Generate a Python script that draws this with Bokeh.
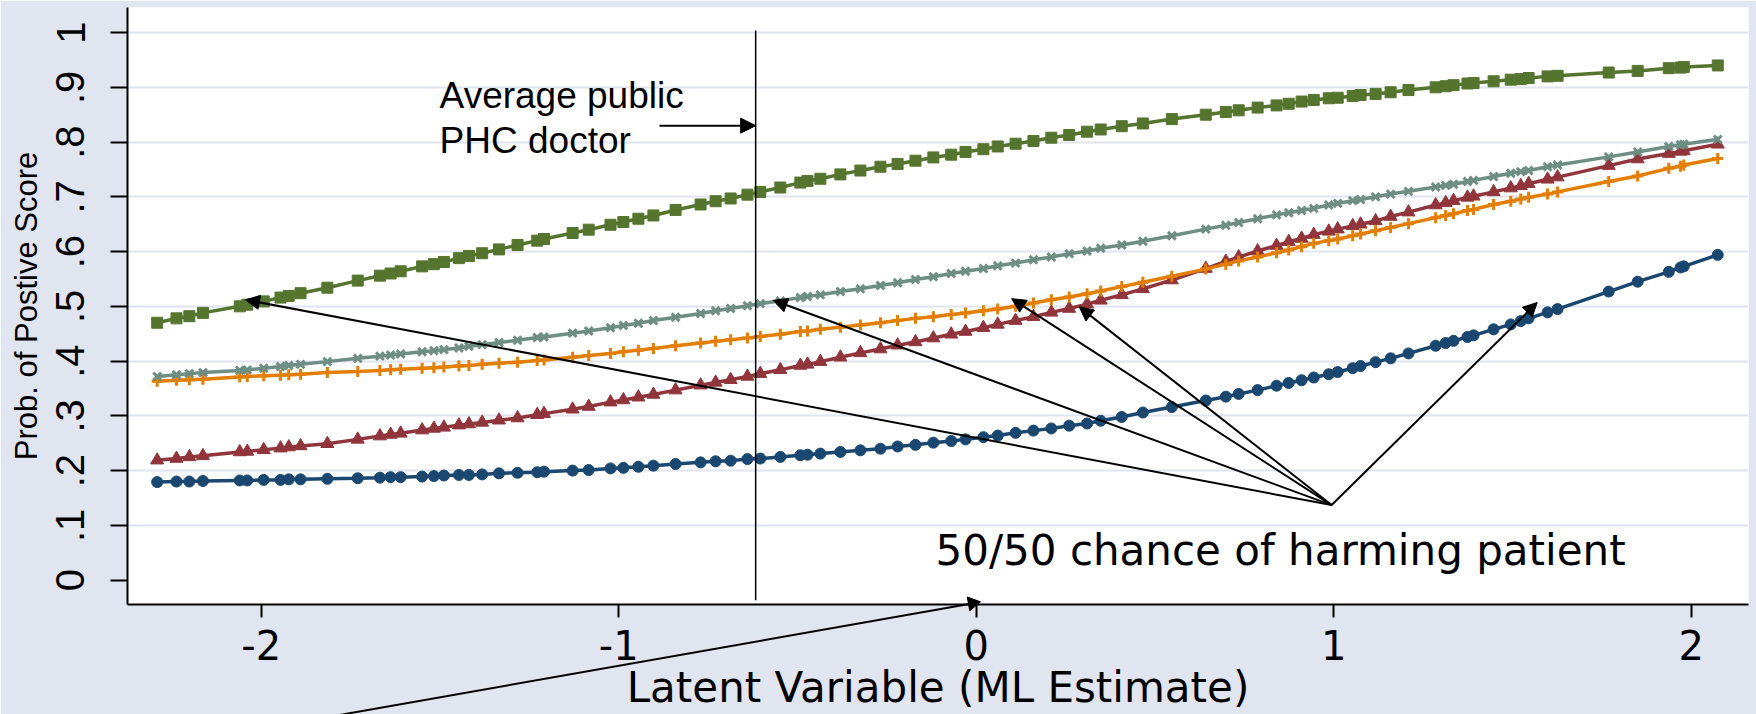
from bokeh.plotting import figure
from bokeh.models import Range1d, FixedTicker, Label, Arrow, NormalHead
from bokeh.embed import file_html
from bokeh.resources import INLINE

# ---------------- data ----------------
latent = [-2.291, -2.237, -2.201, -2.163, -2.060, -2.039, -1.993, -1.946, -1.923, -1.890,
          -1.815, -1.730, -1.668, -1.638, -1.610, -1.550, -1.517, -1.489, -1.447, -1.419,
          -1.382, -1.335, -1.283, -1.228, -1.209, -1.129, -1.084, -1.023, -0.987, -0.945,
          -0.903, -0.841, -0.771, -0.729, -0.687, -0.640, -0.604, -0.548, -0.492, -0.472,
          -0.436, -0.380, -0.324, -0.268, -0.220, -0.170, -0.120, -0.070, -0.030, 0.020,
          0.060, 0.110, 0.160, 0.210, 0.260, 0.310, 0.348, 0.407, 0.466, 0.547,
          0.642, 0.698, 0.734, 0.787, 0.840, 0.874, 0.910, 0.944, 0.986, 1.011,
          1.053, 1.075, 1.117, 1.159, 1.209, 1.285, 1.313, 1.335, 1.374, 1.391,
          1.447, 1.495, 1.523, 1.545, 1.598, 1.626, 1.769, 1.850, 1.937, 1.970,
          1.979, 2.074]

prob_navy = [0.179, 0.180, 0.180, 0.181, 0.182, 0.182, 0.183, 0.183, 0.184, 0.184,
             0.185, 0.186, 0.187, 0.188, 0.188, 0.189, 0.190, 0.191, 0.192, 0.192,
             0.193, 0.195, 0.196, 0.197, 0.198, 0.200, 0.201, 0.204, 0.205, 0.207,
             0.209, 0.212, 0.215, 0.217, 0.218, 0.221, 0.222, 0.225, 0.228, 0.229,
             0.231, 0.234, 0.237, 0.240, 0.244, 0.247, 0.251, 0.254, 0.257, 0.261,
             0.264, 0.269, 0.273, 0.277, 0.282, 0.286, 0.291, 0.298, 0.306, 0.316,
             0.328, 0.335, 0.340, 0.347, 0.355, 0.360, 0.365, 0.370, 0.376, 0.380,
             0.387, 0.391, 0.398, 0.405, 0.414, 0.428, 0.433, 0.437, 0.444, 0.447,
             0.458, 0.467, 0.473, 0.478, 0.489, 0.495, 0.527, 0.545, 0.563, 0.571,
             0.573, 0.594]

prob_maroon = [0.219, 0.222, 0.225, 0.227, 0.234, 0.235, 0.238, 0.241, 0.243, 0.245,
               0.249, 0.257, 0.263, 0.266, 0.268, 0.274, 0.277, 0.279, 0.283, 0.285,
               0.288, 0.292, 0.296, 0.302, 0.304, 0.312, 0.317, 0.325, 0.329, 0.334,
               0.339, 0.347, 0.356, 0.361, 0.366, 0.372, 0.377, 0.384, 0.392, 0.394,
               0.399, 0.407, 0.415, 0.422, 0.429, 0.435, 0.442, 0.449, 0.454, 0.461,
               0.467, 0.474, 0.481, 0.489, 0.496, 0.504, 0.511, 0.521, 0.532, 0.548,
               0.569, 0.582, 0.590, 0.601, 0.611, 0.618, 0.624, 0.631, 0.637, 0.641,
               0.647, 0.650, 0.656, 0.664, 0.672, 0.685, 0.689, 0.693, 0.699, 0.701,
               0.709, 0.716, 0.720, 0.724, 0.732, 0.736, 0.757, 0.769, 0.779, 0.783,
               0.784, 0.796]

prob_green = [0.470, 0.478, 0.482, 0.488, 0.500, 0.503, 0.509, 0.516, 0.519, 0.524,
              0.534, 0.547, 0.556, 0.560, 0.564, 0.573, 0.577, 0.581, 0.588, 0.592,
              0.597, 0.604, 0.612, 0.620, 0.623, 0.634, 0.640, 0.649, 0.654, 0.660,
              0.666, 0.676, 0.686, 0.692, 0.697, 0.704, 0.709, 0.717, 0.726, 0.729,
              0.733, 0.741, 0.748, 0.755, 0.760, 0.766, 0.772, 0.777, 0.782, 0.787,
              0.792, 0.797, 0.802, 0.808, 0.813, 0.819, 0.823, 0.829, 0.834, 0.842,
              0.850, 0.855, 0.858, 0.863, 0.867, 0.870, 0.874, 0.877, 0.880, 0.881,
              0.884, 0.886, 0.888, 0.891, 0.895, 0.900, 0.902, 0.904, 0.907, 0.908,
              0.911, 0.914, 0.915, 0.917, 0.920, 0.921, 0.927, 0.930, 0.935, 0.936,
              0.937, 0.940]

prob_orange = [0.363, 0.365, 0.366, 0.367, 0.371, 0.372, 0.373, 0.374, 0.375, 0.376,
               0.379, 0.381, 0.383, 0.384, 0.385, 0.387, 0.388, 0.389, 0.391, 0.392,
               0.394, 0.396, 0.398, 0.401, 0.402, 0.407, 0.410, 0.414, 0.417, 0.420,
               0.423, 0.428, 0.433, 0.436, 0.439, 0.442, 0.445, 0.449, 0.454, 0.455,
               0.458, 0.462, 0.466, 0.470, 0.474, 0.478, 0.481, 0.485, 0.488, 0.492,
               0.495, 0.500, 0.506, 0.512, 0.517, 0.523, 0.528, 0.536, 0.544, 0.555,
               0.568, 0.577, 0.583, 0.590, 0.598, 0.603, 0.609, 0.615, 0.620, 0.623,
               0.629, 0.632, 0.638, 0.644, 0.651, 0.662, 0.666, 0.669, 0.675, 0.677,
               0.686, 0.692, 0.696, 0.699, 0.705, 0.709, 0.728, 0.738, 0.752, 0.756,
               0.758, 0.770]

prob_teal = [0.372, 0.375, 0.377, 0.379, 0.383, 0.384, 0.387, 0.390, 0.392, 0.394,
             0.399, 0.405, 0.409, 0.411, 0.413, 0.417, 0.419, 0.421, 0.424, 0.427,
             0.430, 0.434, 0.438, 0.443, 0.444, 0.451, 0.455, 0.461, 0.465, 0.469,
             0.474, 0.480, 0.487, 0.492, 0.496, 0.501, 0.505, 0.510, 0.516, 0.518,
             0.521, 0.527, 0.532, 0.538, 0.543, 0.549, 0.554, 0.560, 0.564, 0.569,
             0.574, 0.579, 0.585, 0.590, 0.596, 0.601, 0.606, 0.612, 0.619, 0.629,
             0.641, 0.648, 0.653, 0.660, 0.667, 0.671, 0.675, 0.679, 0.685, 0.688,
             0.693, 0.695, 0.700, 0.705, 0.710, 0.718, 0.721, 0.723, 0.728, 0.730,
             0.737, 0.743, 0.746, 0.748, 0.755, 0.758, 0.773, 0.782, 0.792, 0.795,
             0.796, 0.805]

x_ticks = [-2, -1, 0, 1, 2]
x_tick_labels = ["-2", "-1", "0", "1", "2"]
y_ticks = [0, 0.1, 0.2, 0.3, 0.4, 0.5, 0.6, 0.7, 0.8, 0.9, 1.0]
y_tick_labels = ["0", ".1", ".2", ".3", ".4", ".5", ".6", ".7", ".8", ".9", "1"]
grid_values = [0.1, 0.2, 0.3, 0.4, 0.5, 0.6, 0.7, 0.8, 0.9, 1.0]

avg_public_phc = -0.617            # latent value of the average public PHC doctor
harm_origin = (0.994, 0.137)       # where the "50/50" arrows start
harm_targets_x = [-2.044, -0.568, 0.099, 0.288, 1.569]
harm_targets_y = [0.512, 0.511, 0.514, 0.499, 0.507]

NAVY, MAROON, GREEN, ORANGE, TEAL = "#1a476f", "#90353b", "#55752f", "#e37e00", "#6e8e84"
BG = "#e0e5ef"
SANS = "Liberation Sans"

# ---------------- figure ----------------
p = figure(width=1756, height=714, output_backend="svg", toolbar_location=None,
           x_range=Range1d(-2.374, 2.160), y_range=Range1d(-0.0446, 1.0458),
           min_border_left=127, min_border_right=8, min_border_top=7, min_border_bottom=105)
p.background_fill_color = "white"
p.border_fill_color = BG
p.outline_line_color = None

p.xgrid.visible = False
p.ygrid.ticker = FixedTicker(ticks=grid_values)
p.ygrid.grid_line_color = "#dfe4ee"
p.ygrid.grid_line_width = 2

# x axis
p.xaxis.ticker = FixedTicker(ticks=x_ticks)
p.xaxis.major_label_overrides = {t: l for t, l in zip(x_ticks, x_tick_labels)}
p.xaxis.axis_line_width = 2
p.xaxis.axis_line_color = "black"
p.xaxis.major_tick_line_width = 2
p.xaxis.major_tick_out = 13
p.xaxis.major_tick_in = 0
p.xaxis.minor_tick_out = 0
p.xaxis.minor_tick_in = 0
p.xaxis.major_label_text_font = "DejaVu Sans"
p.xaxis.major_label_text_font_size = "40px"
p.xaxis.major_label_text_color = "black"
p.xaxis.major_label_standoff = 12
p.xaxis.axis_label = "Latent Variable (ML Estimate)"
p.xaxis.axis_label_text_font = "DejaVu Sans"
p.xaxis.axis_label_text_font_size = "42px"
p.xaxis.axis_label_text_font_style = "normal"
p.xaxis.axis_label_text_color = "black"
p.xaxis.axis_label_standoff = 0

# y axis
p.yaxis.ticker = FixedTicker(ticks=y_ticks)
p.yaxis.major_label_overrides = {t: l for t, l in zip(y_ticks, y_tick_labels)}
p.yaxis.major_label_orientation = "vertical"
p.yaxis.axis_line_width = 2
p.yaxis.axis_line_color = "black"
p.yaxis.major_tick_line_width = 2
p.yaxis.major_tick_out = 17
p.yaxis.major_tick_in = 0
p.yaxis.minor_tick_out = 0
p.yaxis.minor_tick_in = 0
p.yaxis.major_label_text_font = SANS
p.yaxis.major_label_text_font_size = "40px"
p.yaxis.major_label_text_color = "black"
p.yaxis.major_label_standoff = 26
p.yaxis.axis_label = "Prob. of Postive Score"
p.yaxis.axis_label_text_font = SANS
p.yaxis.axis_label_text_font_size = "31px"
p.yaxis.axis_label_text_font_style = "normal"
p.yaxis.axis_label_text_color = "black"
p.yaxis.axis_label_standoff = 10

# ---------------- series ----------------
p.line(latent, prob_navy, line_color=NAVY, line_width=3.5)
p.scatter(latent, prob_navy, marker="circle", size=11, fill_color=NAVY, line_color=NAVY)

p.line(latent, prob_maroon, line_color=MAROON, line_width=3.5)
p.scatter(latent, prob_maroon, marker="triangle", size=13, fill_color=MAROON, line_color=MAROON)

p.line(latent, prob_green, line_color=GREEN, line_width=3.5)
p.scatter(latent, prob_green, marker="square", size=11, fill_color=GREEN, line_color=GREEN)

p.line(latent, prob_orange, line_color=ORANGE, line_width=3.5)
p.scatter(latent, prob_orange, marker="cross", size=11, line_color=ORANGE, line_width=3)

p.line(latent, prob_teal, line_color=TEAL, line_width=3.5)
p.scatter(latent, prob_teal, marker="x", size=11, line_color=TEAL, line_width=3)

# ---------------- annotations ----------------
p.segment(x0=[avg_public_phc], y0=[1.004], x1=[avg_public_phc], y1=[-0.037],
          line_color="black", line_width=1.5)

p.add_layout(Label(x=-1.501, y=0.885, text="Average public", text_font=SANS,
                   text_font_size="37px", text_color="black", text_baseline="alphabetic"))
p.add_layout(Label(x=-1.501, y=0.803, text="PHC doctor", text_font=SANS,
                   text_font_size="37px", text_color="black", text_baseline="alphabetic"))
p.add_layout(Arrow(x_start=-0.886, y_start=0.830, x_end=avg_public_phc, y_end=0.830,
                   line_color="black", line_width=2,
                   end=NormalHead(size=15, fill_color="black", line_color="black")))

for tx, ty in zip(harm_targets_x, harm_targets_y):
    p.add_layout(Arrow(x_start=harm_origin[0], y_start=harm_origin[1], x_end=tx, y_end=ty,
                       line_color="black", line_width=2,
                       end=NormalHead(size=14, fill_color="black", line_color="black")))

p.add_layout(Label(x=-0.114, y=0.054, text="50/50 chance of harming patient",
                   text_font="DejaVu Sans", text_font_size="42px", text_color="black",
                   text_baseline="alphabetic"))

# arrow from below the plot pointing at 0 on the x axis (drawn above the frame clip)
p.segment(x0=[-1.89], y0=[-0.259], x1=[-0.012], y1=[-0.0428],
          line_color="black", line_width=2, level="overlay")
p.scatter(x=[-0.0105], y=[-0.0423], marker="triangle", size=14, angle=-1.394,
          fill_color="black", line_color="black", level="overlay")

open("out.html", "w").write(file_html(p, INLINE))
